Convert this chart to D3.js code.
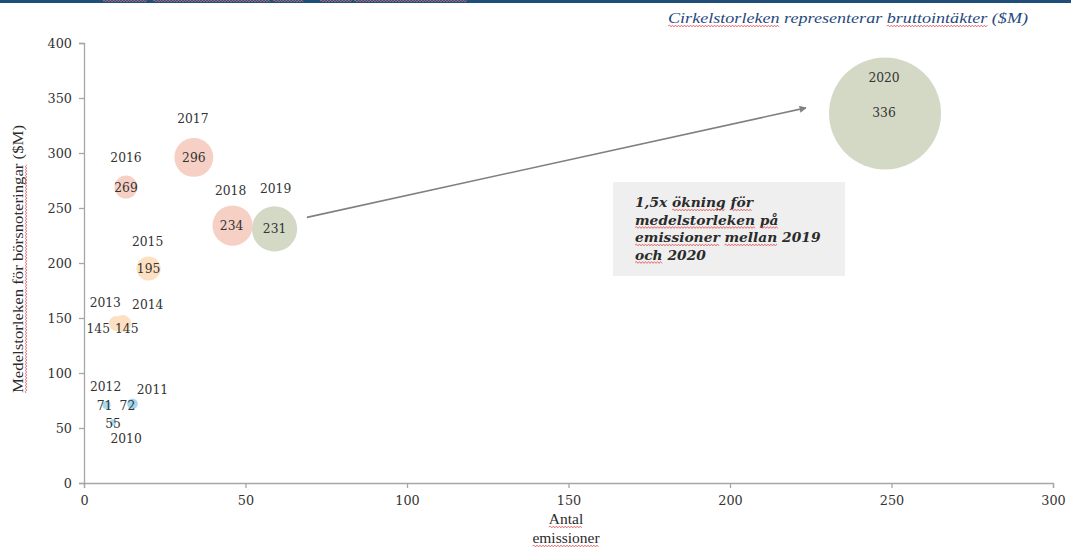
<!DOCTYPE html>
<html>
<head>
<meta charset="utf-8">
<script src="https://cdn.jsdelivr.net/npm/d3@7"></script>
<style>
  html, body { margin: 0; padding: 0; background: #fff; }
  svg { display: block; }
</style>
</head>
<body>
<svg id="chart" width="1071" height="548"></svg>
<script>
// Börsnoteringar per år: antal emissioner, medelstorlek ($M) och bruttointäkter ($M)
const years     = ["2010", "2011", "2012", "2013", "2014", "2015", "2016", "2017", "2018", "2019", "2020"];
const counts    = [9, 15, 7, 10, 12, 20, 13, 34, 46, 59, 248];
const avgSize   = [55, 72, 71, 145, 145, 195, 269, 296, 234, 231, 336];
const proceeds  = [260, 760, 430, 1460, 1880, 3900, 3500, 10060, 10760, 13630, 83330];
const xTicks    = [0, 50, 100, 150, 200, 250, 300];
const yTicks    = [0, 50, 100, 150, 200, 250, 300, 350, 400];

// Färg per period
const periodColor = {
  "2010": "#a6d9ef", "2011": "#a6d9ef", "2012": "#a6d9ef",
  "2013": "#fde0c2", "2014": "#fde0c2", "2015": "#fde0c2",
  "2016": "#f6d0c4", "2017": "#f6d0c4", "2018": "#f6d0c4",
  "2019": "#d4d9c6", "2020": "#d4d9c6"
};

// Etikettplacering (px) relativt cirkelns mitt: [värde dx, dy, år dx, dy]
const labelOffset = {
  "2010": [0, 1, 13, 16],
  "2011": [-5, 2, 20, -14],
  "2012": [-2, 1, -1, -18],
  "2013": [-18, 5, -11, -21],
  "2014": [4, 5, 25, -19],
  "2015": [0, 0, -1, -27],
  "2016": [0, 0, 0, -30],
  "2017": [0, 0, -1, -39],
  "2018": [-1, 0, -2, -35],
  "2019": [0, 0, 1, -40],
  "2020": [-1, -1, -1, -36]
};

const svg = d3.select("#chart");
const W = 1071, H = 548;
const plot = { left: 84, right: 1053, top: 43, bottom: 483 };

const x = d3.scaleLinear().domain([0, 300]).range([plot.left, plot.right]);
const y = d3.scaleLinear().domain([0, 400]).range([plot.bottom, plot.top]);
const r = d3.scaleSqrt().domain([0, d3.max(proceeds)]).range([0, 56]);

const numFont = "'DejaVu Serif', Georgia, serif";
const titleFont = "'Liberation Serif', 'Times New Roman', serif";
const axisColor = "#a6a6a6";
const textColor = "#333333";

// Wavy line between two x positions
function wave(parent, x0, x1, yy, color, amp) {
  let d = `M${x0},${yy}`;
  let up = true;
  for (let xx = x0 + 1.5; xx <= x1; xx += 1.5) {
    d += `L${xx},${yy + (up ? -amp : amp)}`;
    up = !up;
  }
  parent.append("path").attr("d", d).attr("fill", "none")
    .attr("stroke", color).attr("stroke-width", 0.8);
}
// Wavy red underline below a character range of a text element
function squiggle(parent, textNode, from, to) {
  const p0 = textNode.getStartPositionOfChar(from);
  const p1 = textNode.getEndPositionOfChar(to);
  wave(parent, p0.x, p1.x, p0.y + 3, "#e2504f", 0.9);
}
function squiggleWords(parent, textNode, words) {
  const s = textNode.textContent;
  let pos = 0;
  words.forEach(w => {
    const i = s.indexOf(w, pos);
    if (i >= 0) { squiggle(parent, textNode, i, i + w.length - 1); pos = i + w.length; }
  });
}

// Top rule with clipped heading marks
svg.append("rect").attr("x", 0).attr("y", 0).attr("width", W).attr("height", 3).attr("fill", "#1f4e79");
[[103, 147], [153, 271], [273, 304], [320, 352], [354, 467]].forEach(([a, b]) => {
  wave(svg, a, b, 1, "#e77a80", 0.8);
});

// Axes
const gx = svg.append("g").attr("transform", `translate(0,${plot.bottom})`)
  .call(d3.axisBottom(x).tickValues(xTicks).tickSizeOuter(0).tickSize(5).tickPadding(8));
const gy = svg.append("g").attr("transform", `translate(${plot.left},0)`)
  .call(d3.axisLeft(y).tickValues(yTicks).tickSizeOuter(0).tickSize(5).tickPadding(7));
[gx, gy].forEach(g => {
  g.select(".domain").attr("stroke", axisColor).attr("stroke-width", 1.3);
  g.selectAll(".tick line").attr("stroke", axisColor).attr("stroke-width", 1.3);
  g.selectAll(".tick text").attr("fill", textColor).attr("font-family", numFont).attr("font-size", 12.8);
});
gy.selectAll(".tick text").attr("dy", "0.34em");

// Bubbles
const data = years.map((yr, i) => ({ yr, n: counts[i], avg: avgSize[i], tot: proceeds[i] }));
const order = data.slice().sort((a, b) => b.tot - a.tot);
svg.append("g").selectAll("circle").data(order).join("circle")
  .attr("cx", d => x(d.n)).attr("cy", d => y(d.avg)).attr("r", d => r(d.tot))
  .attr("fill", d => periodColor[d.yr]);

// Arrow from 2019 towards 2020
const arrowFrom = [69, 241.5];
const arrowTo = [223.5, 341];
svg.append("defs").append("marker")
  .attr("id", "head").attr("viewBox", "0 0 10 10").attr("refX", 9).attr("refY", 5)
  .attr("markerWidth", 7).attr("markerHeight", 7).attr("markerUnits", "userSpaceOnUse")
  .attr("orient", "auto")
  .append("path").attr("d", "M0,0L10,5L0,10Z").attr("fill", "#808080");
svg.append("line")
  .attr("x1", x(arrowFrom[0])).attr("y1", y(arrowFrom[1]))
  .attr("x2", x(arrowTo[0])).attr("y2", y(arrowTo[1]))
  .attr("stroke", "#808080").attr("stroke-width", 1.6).attr("marker-end", "url(#head)");

// Value and year labels
const labels = svg.append("g").attr("font-family", numFont).attr("font-size", 12.3)
  .attr("fill", textColor).attr("text-anchor", "middle");
data.forEach(d => {
  const o = labelOffset[d.yr];
  const cx = x(d.n), cy = y(d.avg);
  labels.append("text").attr("x", cx + o[0]).attr("y", cy + o[1]).attr("dy", "0.36em").text(d.avg);
  labels.append("text").attr("x", cx + o[2]).attr("y", cy + o[3]).attr("dy", "0.36em").text(d.yr);
});

// Annotation box
const box = svg.append("g");
box.append("rect").attr("x", 613).attr("y", 182).attr("width", 232).attr("height", 94).attr("fill", "#efefef");
const boxLines = ["1,5x ökning för", "medelstorleken på", "emissioner mellan 2019", "och 2020"];
const boxSquiggles = [["ökning", "för"], ["medelstorleken", "på"], ["emissioner", "mellan"], ["och"]];
boxLines.forEach((t, i) => {
  const tn = box.append("text").attr("x", 635).attr("y", 207 + i * 17.5)
    .attr("font-family", numFont).attr("font-size", 13.8).attr("font-weight", "bold")
    .attr("font-style", "italic").attr("fill", "#2b2b2b").text(t);
  squiggleWords(box, tn.node(), boxSquiggles[i]);
});

// Size note (top right)
const note = svg.append("g");
const noteText = note.append("text").attr("x", 1028).attr("y", 23).attr("text-anchor", "end")
  .attr("font-family", titleFont).attr("font-size", 15.5).attr("font-style", "italic")
  .attr("fill", "#1f497d").attr("textLength", 360).attr("lengthAdjust", "spacingAndGlyphs")
  .text("Cirkelstorleken representerar bruttointäkter ($M)");
squiggleWords(note, noteText.node(), ["Cirkelstorleken", "bruttointäkter"]);

// Y axis title
const yTitle = svg.append("g").attr("transform", "translate(23,259) rotate(-90)");
const yt = yTitle.append("text").attr("x", 0).attr("y", 0).attr("text-anchor", "middle")
  .attr("font-family", titleFont).attr("font-size", 15).attr("fill", "#2b2b2b")
  .attr("textLength", 268).attr("lengthAdjust", "spacingAndGlyphs")
  .text("Medelstorleken för börsnoteringar ($M)");
squiggleWords(yTitle, yt.node(), ["Medelstorleken för börsnoteringar"]);

// X axis title
const xTitle = svg.append("g");
["Antal", "emissioner"].forEach((t, i) => {
  const tn = xTitle.append("text").attr("x", 566).attr("y", 524 + i * 19).attr("text-anchor", "middle")
    .attr("font-family", titleFont).attr("font-size", 15.5).attr("fill", "#2b2b2b").text(t);
  squiggleWords(xTitle, tn.node(), [t]);
});
</script>
</body>
</html>
